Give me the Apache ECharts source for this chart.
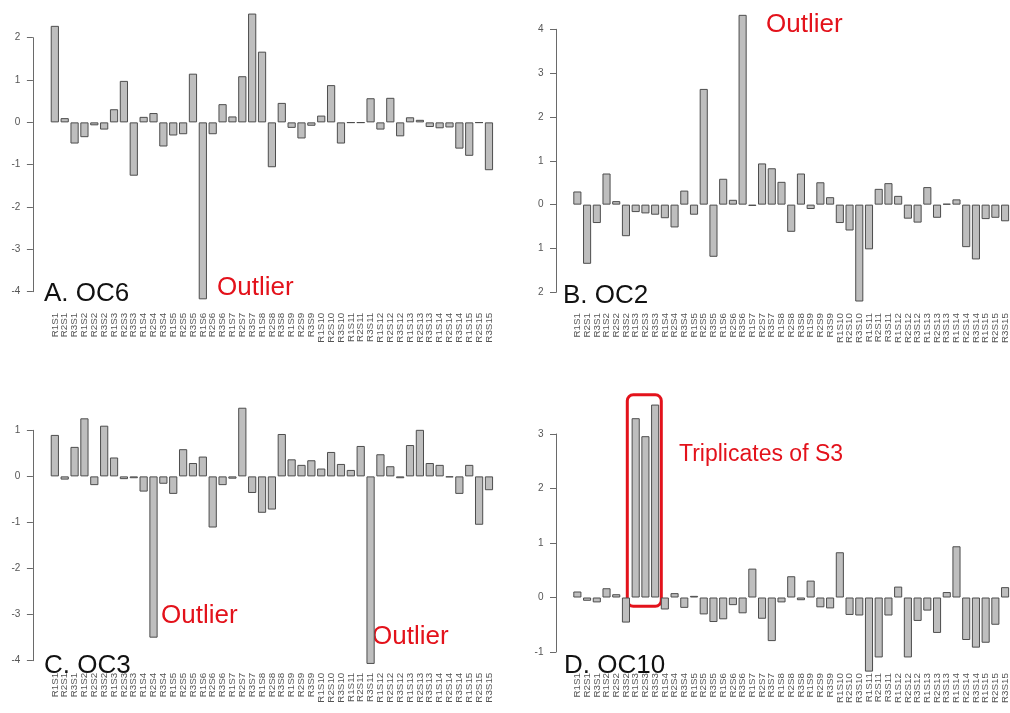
<!DOCTYPE html>
<html><head><meta charset="utf-8">
<script src="https://cdn.jsdelivr.net/npm/echarts@6/dist/echarts.min.js"></script>
<style>html,body{margin:0;padding:0;background:#fff}#c{width:1010px;height:713px}</style>
</head><body><div id="c"></div>
<script>
const categories = ['R1S1','R2S1','R3S1','R1S2','R2S2','R3S2','R1S3','R2S3','R3S3','R1S4','R2S4','R3S4','R1S5','R2S5','R3S5',
  'R1S6','R2S6','R3S6','R1S7','R2S7','R3S7','R1S8','R2S8','R3S8','R1S9','R2S9','R3S9','R1S10','R2S10','R3S10',
  'R1S11','R2S11','R3S11','R1S12','R2S12','R3S12','R1S13','R2S13','R3S13','R1S14','R2S14','R3S14','R1S15','R2S15','R3S15'];

const oc6 = [2.28,0.10,-0.50,-0.35,-0.07,-0.17,0.31,0.98,-1.26,0.13,0.22,-0.57,-0.31,-0.28,1.15,
  -4.18,-0.28,0.43,0.14,1.09,2.57,1.67,-1.06,0.46,-0.13,-0.38,-0.08,0.16,0.88,-0.50,
  -0.01,-0.01,0.57,-0.17,0.58,-0.33,0.12,0.06,-0.11,-0.14,-0.12,-0.62,-0.79,-0.01,-1.13];
const oc2 = [0.30,-1.35,-0.42,0.71,0.08,-0.72,-0.17,-0.20,-0.23,-0.31,-0.52,0.32,-0.23,2.64,-1.19,
  0.59,0.11,4.33,-0.03,0.94,0.83,0.52,-0.62,0.71,-0.10,0.51,0.17,-0.42,-0.59,-2.21,
  -1.02,0.36,0.49,0.20,-0.32,-0.41,0.40,-0.30,0.02,0.12,-0.97,-1.25,-0.33,-0.30,-0.38];
const oc3 = [0.90,-0.07,0.64,1.26,-0.19,1.10,0.41,-0.06,-0.04,-0.33,-3.50,-0.16,-0.38,0.59,0.29,
  0.43,-1.11,-0.19,-0.05,1.49,-0.36,-0.79,-0.72,0.92,0.37,0.25,0.35,0.17,0.53,0.27,
  0.14,0.66,-4.07,0.48,0.22,-0.04,0.68,1.01,0.29,0.25,-0.02,-0.38,0.25,-1.05,-0.30];
const oc10 = [0.11,-0.06,-0.09,0.17,0.06,-0.46,3.29,2.96,3.54,-0.22,0.08,-0.19,0.03,-0.31,-0.45,
  -0.40,-0.14,-0.29,0.53,-0.39,-0.80,-0.09,0.39,-0.05,0.31,-0.18,-0.20,0.83,-0.32,-0.33,
  -1.36,-1.10,-0.33,0.20,-1.10,-0.43,-0.24,-0.65,0.10,0.94,-0.78,-0.92,-0.83,-0.50,0.19];

// y tick labels as printed in the figure (panel B prints no minus signs)
const ticksA = {'-4':'-4','-3':'-3','-2':'-2','-1':'-1','0':'0','1':'1','2':'2'};
const ticksB = {'-2':'2','-1':'1','0':'0','1':'1','2':'2','3':'3','4':'4'};
const ticksC = {'-4':'-4','-3':'-3','-2':'-2','-1':'-1','0':'0','1':'1'};
const ticksD = {'-1':'-1','0':'0','1':'1','2':'2','3':'3'};

const panelTitles = ['A. OC6','B. OC2','C. OC3','D. OC10'];
const annoOutlier = 'Outlier';
const annoTriplicate = 'Triplicates of S3';

const FONT = "'Liberation Sans', Arial, sans-serif";
const RED = '#e3121b';

const panels = [
  {data: oc6, ticks: ticksA, min:-4, max:2, grid:{left:49.9, width:444, top:37.7, height:254}, yOff:17, xMargin:21},
  {data: oc2, ticks: ticksB, min:-2, max:4, grid:{left:572.5, width:445.5, top:29.3, height:263}, yOff:16.5, xMargin:20.7},
  {data: oc3, ticks: ticksC, min:-4, max:1, grid:{left:49.9, width:444, top:430.3, height:230.4}, yOff:17, xMargin:12},
  {data: oc10, ticks: ticksD, min:-1, max:3, grid:{left:572.5, width:445.5, top:434, height:218}, yOff:16.5, xMargin:21}
];

const option = {
  backgroundColor: '#fff',
  animation: false,
  grid: panels.map(p => Object.assign({containLabel:false}, p.grid)),
  xAxis: panels.map((p,i) => ({
    type:'category', gridIndex:i, data:categories, position:'bottom',
    axisLine:{show:false, onZero:false}, axisTick:{show:false}, splitLine:{show:false},
    axisLabel:{interval:0, rotate:90, fontSize:9.8, color:'#555', fontFamily:FONT, margin:p.xMargin}
  })),
  yAxis: panels.map((p,i) => ({
    type:'value', gridIndex:i, min:p.min, max:p.max, interval:1, offset:p.yOff,
    axisLine:{show:true, lineStyle:{color:'#6a6a6a', width:1}},
    axisTick:{show:true, length:6, lineStyle:{color:'#6a6a6a'}},
    splitLine:{show:false},
    axisLabel:{color:'#555', fontSize:10, fontFamily:FONT, margin:12.5,
      formatter: v => p.ticks[String(v)] !== undefined ? p.ticks[String(v)] : String(v)}
  })),
  series: panels.map((p,i) => ({
    type:'bar', xAxisIndex:i, yAxisIndex:i, data:p.data, clip:false,
    barCategoryGap:'16.7%',
    itemStyle:{color:'#bebebe', borderColor:'#4d4d4d', borderWidth:1}
  })),
  graphic: [
    {type:'text', left:null, style:{text:panelTitles[0], x:44, y:294, font:'26px '+FONT, fill:'#111', textVerticalAlign:'middle'}},
    {type:'text', style:{text:panelTitles[1], x:563, y:296, font:'26px '+FONT, fill:'#111', textVerticalAlign:'middle'}},
    {type:'text', style:{text:panelTitles[2], x:44, y:665.5, font:'26px '+FONT, fill:'#111', textVerticalAlign:'middle'}},
    {type:'text', style:{text:panelTitles[3], x:564, y:666, font:'26px '+FONT, fill:'#111', textVerticalAlign:'middle'}},
    {type:'text', style:{text:annoOutlier, x:217, y:287.5, font:'26px '+FONT, fill:RED, textVerticalAlign:'middle'}},
    {type:'text', style:{text:annoOutlier, x:766, y:24.7, font:'26px '+FONT, fill:RED, textVerticalAlign:'middle'}},
    {type:'text', style:{text:annoOutlier, x:161, y:616, font:'26px '+FONT, fill:RED, textVerticalAlign:'middle'}},
    {type:'text', style:{text:annoOutlier, x:372, y:637, font:'26px '+FONT, fill:RED, textVerticalAlign:'middle'}},
    {type:'text', style:{text:annoTriplicate, x:679, y:454.5, font:'23px '+FONT, fill:RED, textVerticalAlign:'middle'}},
    {type:'rect', shape:{x:627.3, y:394.7, width:34, height:211.6, r:6}, style:{fill:'none', stroke:RED, lineWidth:3}}
  ]
};

const chart = echarts.init(document.getElementById('c'), null, {renderer:'canvas', width:1010, height:713});
chart.setOption(option);
</script>
</body></html>
